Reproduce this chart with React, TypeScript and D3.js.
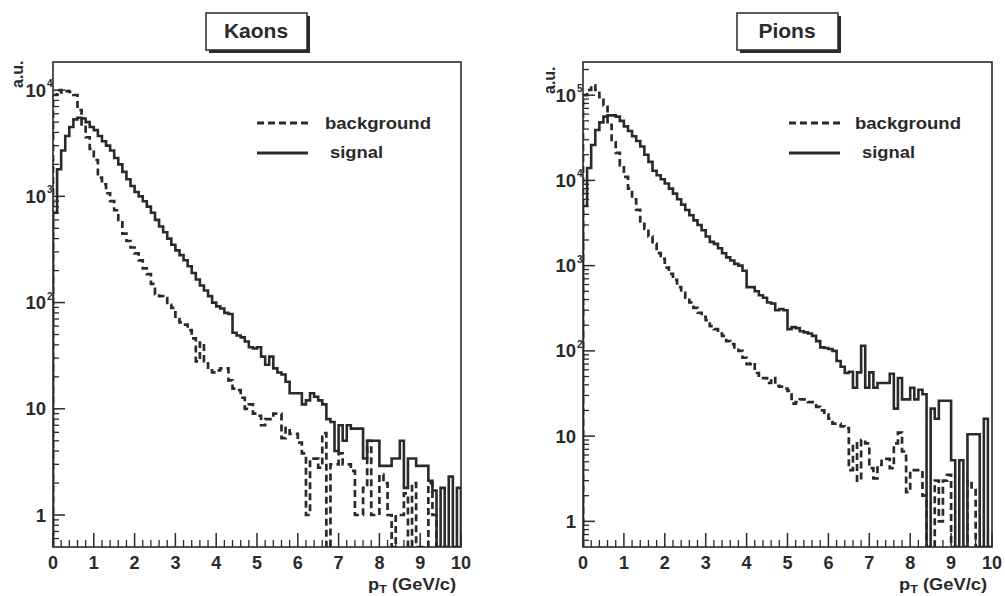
import React from 'react'
import * as d3 from 'd3'

// bin contents, 100 bins of 0.1 GeV/c from 0 to 10
const kaonSignal = [
  700, 1800, 2700, 3700, 4500, 5300, 5500, 5400, 5000, 4500,
  4200, 3700, 3300, 3000, 2700, 2300, 2000, 1700, 1450, 1250,
  1100, 1000, 900, 800, 700, 600, 520, 460, 400, 350,
  310, 280, 250, 220, 190, 165, 145, 130, 115, 100,
  92, 88, 80, 78, 52, 49, 47, 43, 38, 37,
  38, 31, 26, 31, 24, 22, 21, 18, 14, 14,
  14, 11, 12, 14, 13, 12, 11, 8, 7.5, 4,
  7, 5, 7, 6.5, 6.5, 6.5, 3.4, 5, 5, 5,
  2.9, 2.9, 2.9, 3.4, 3.4, 5, 1.8, 3.4, 3.4, 2.9,
  2.9, 2.9, 2.1, 1.7, 0, 1.8, 0, 2.3, 0, 1.8,
]
const kaonBackground = [
  9000, 10000, 9500, 9800, 9600, 9000, 6500, 4500, 3600, 2800,
  2200, 1500, 1300, 1070, 900, 740, 600, 445, 380, 330,
  290, 250, 210, 185, 150, 120, 115, 110, 95, 89,
  70, 65, 62, 55, 46, 28, 42, 28, 23, 22,
  23, 24, 24, 18.5, 15.5, 15, 12.7, 10, 11, 9,
  8.6, 7, 8, 8, 9, 9, 5.3, 6.6, 5.8, 5.8,
  4.8, 3.8, 1.0, 3.4, 3.4, 2.8, 5.9, 0, 3, 3,
  3.8, 3, 3, 2.6, 1.0, 1.0, 1.8, 5, 1, 1,
  2.4, 2, 1, 0, 1, 1, 1.6, 0, 2, 0,
  0, 0, 2, 1, 0, 0, 0, 0, 0, 0,
]
const pionSignal = [
  5000, 14000, 26000, 39000, 48000, 56000, 58000, 58000, 56000, 50000,
  43000, 38000, 33000, 29000, 25000, 20000, 16500, 13000, 11500, 10300,
  9200, 8000, 7000, 6000, 5200, 4500, 3900, 3400, 3000, 2600,
  2200, 1900, 1800, 1600, 1400, 1250, 1150, 1050, 1000, 870,
  560, 560, 500, 450, 420, 370, 360, 300, 310, 300,
  180, 190, 185, 170, 165, 160, 150, 130, 110, 108,
  105, 100, 76, 65, 55, 57, 37, 56, 115, 37,
  56, 37, 42, 42, 42, 54, 21, 48, 27, 27,
  37, 27, 35, 31, 0, 21, 16, 26, 26, 26,
  5.2, 0, 5.2, 0, 10.5, 10.5, 10.5, 0, 16, 0,
]
const pionBackground = [
  100000, 115000, 130000, 115000, 95000, 76000, 45000, 28000, 21000, 15000,
  11000, 8000, 6000, 4500, 3300, 2700, 2200, 1800, 1400, 1200,
  950, 800, 680, 560, 480, 420, 370, 320, 280, 250,
  230, 195, 180, 160, 150, 130, 120, 110, 100, 83,
  70, 72, 55, 48, 48, 42, 48, 39, 38, 36,
  34, 24, 25, 27, 27, 25, 25, 22, 20, 18,
  16, 14, 14, 13, 12.4, 4, 8.2, 3, 9, 8.2,
  4.2, 3.2, 4.6, 5.4, 5.4, 4.2, 8.2, 11, 6.6, 2.2,
  4, 4, 4, 2, 0, 0, 3, 1, 3, 3.5,
  0, 0, 0, 0, 3, 2.5, 0, 0, 0, 0,
]
const xTickLabels = ['0', '1', '2', '3', '4', '5', '6', '7', '8', '9', '10']
const binWidth = 0.1

const ink = '#2a2a2a'
const font = '"Liberation Sans", Arial, Helvetica, sans-serif'

function histPath(values, x, y, ymin) {
  var pts = [[x(0), y(ymin)]]
  values.forEach((v, i) => {
    var yy = y(Math.max(v, ymin))
    pts.push([x(i * binWidth), yy])
    pts.push([x((i + 1) * binWidth), yy])
  })
  pts.push([x(values.length * binWidth), y(ymin)])
  return d3.line()(pts)
}

const Panel = ({id, title, signal, background, left, right, yMax, boxX, legendX, bgTextX, sigTextX, auX, auY}) => {
  var top = 62
  var bottom = 547
  var ymin = 0.5
  const x = d3.scaleLinear().domain([0, 10]).range([left, right])
  const y = d3.scaleLog().domain([ymin, yMax]).range([bottom, top])

  var maxDecade = Math.floor(Math.log10(yMax))
  var majors = d3.range(0, maxDecade + 1).map(n => Math.pow(10, n))
  var minors = []
  for (var n = -1; n <= maxDecade; n++) {
    for (var k = 2; k <= 9; k++) {
      var v = k * Math.pow(10, n)
      if (v > ymin && v < yMax) minors.push(v)
    }
  }
  var xMinor = d3.range(0, 50).map(i => i * 0.2).filter(v => Math.abs(v - Math.round(v)) > 0.01)

  return (
    <g>
      <defs>
        <clipPath id={'clip' + id}>
          <rect x={left} y={top} width={right - left} height={bottom - top}/>
        </clipPath>
      </defs>
      {/* title pave with shadow */}
      <rect x={boxX + 3} y={16} width={101} height={37} fill={ink}/>
      <rect x={boxX} y={13} width={101} height={37} fill="white" stroke={ink} strokeWidth={1.5}/>
      <text x={boxX + 50} y={38} textAnchor="middle" fontFamily={font} fontWeight="bold" fontSize={21} fill={ink}>{title}</text>

      <g clipPath={'url(#clip' + id + ')'}>
        <path d={histPath(background, x, y, ymin)} fill="none" stroke={ink} strokeWidth={2.7} strokeDasharray="7 4"/>
        <path d={histPath(signal, x, y, ymin)} fill="none" stroke={ink} strokeWidth={2.6}/>
      </g>

      <rect x={left} y={top} width={right - left} height={bottom - top} fill="none" stroke={ink} strokeWidth={1.6}/>

      {/* y axis */}
      {majors.map(v => <line key={'M' + v} x1={left} x2={left + 12} y1={y(v)} y2={y(v)} stroke={ink} strokeWidth={1.5}/>)}
      {minors.map(v => <line key={'m' + v} x1={left} x2={left + 6} y1={y(v)} y2={y(v)} stroke={ink} strokeWidth={1.3}/>)}
      {majors.map((v, n) => {
        var base = n === 0 ? '1' : '10'
        return (
          <g key={'l' + v}>
            <text x={left - 7} y={y(v) + 6.5} textAnchor="end" fontFamily={font} fontWeight="bold" fontSize={18.5} fill={ink}>{base}</text>
            {n > 1 ? <text x={left - 6} y={y(v) - 3} fontFamily={font} fontWeight="bold" fontSize={10} fill={ink}>{n}</text> : null}
          </g>
        )
      })}
      <text transform={`translate(${auX},${auY}) rotate(-90)`} fontFamily={font} fontWeight="bold" fontSize={16} fill={ink}>a.u.</text>

      {/* x axis */}
      {xTickLabels.map((t, i) => <line key={'X' + i} x1={x(i)} x2={x(i)} y1={bottom} y2={bottom - 14} stroke={ink} strokeWidth={1.5}/>)}
      {xMinor.map(v => <line key={'x' + v} x1={x(v)} x2={x(v)} y1={bottom} y2={bottom - 7} stroke={ink} strokeWidth={1.3}/>)}
      {xTickLabels.map((t, i) => <text key={'t' + i} x={x(i)} y={569} textAnchor="middle" fontFamily={font} fontWeight="bold" fontSize={18} fill={ink}>{t}</text>)}
      <text x={right - 5} y={590} textAnchor="end" fontFamily={font} fontWeight="bold" fontSize={16} fill={ink} textLength={88} lengthAdjust="spacingAndGlyphs">
        p<tspan fontSize={11} dy={3}>T</tspan><tspan dy={-3}> (GeV/c)</tspan>
      </text>

      {/* legend */}
      <line x1={legendX} x2={legendX + 51} y1={123} y2={123} stroke={ink} strokeWidth={3} strokeDasharray="7 4"/>
      <text x={bgTextX} y={129} fontFamily={font} fontWeight="bold" fontSize={17} fill={ink} textLength={106} lengthAdjust="spacingAndGlyphs">background</text>
      <line x1={legendX} x2={legendX + 51} y1={153} y2={153} stroke={ink} strokeWidth={3}/>
      <text x={sigTextX} y={158} fontFamily={font} fontWeight="bold" fontSize={17} fill={ink} textLength={53} lengthAdjust="spacingAndGlyphs">signal</text>
    </g>
  )
}

const App = () => {
  return (
    <svg width={1005} height={596} style={{position: 'absolute', left: 0, top: 0, background: 'white'}}>
      <rect width={1005} height={596} fill="white"/>
      <Panel id="k" title="Kaons" signal={kaonSignal} background={kaonBackground}
        left={53} right={461} yMax={18400} boxX={206} legendX={257} bgTextX={325} sigTextX={330} auX={23} auY={88}/>
      <Panel id="p" title="Pions" signal={pionSignal} background={pionBackground}
        left={583} right={992} yMax={245000} boxX={737} legendX={789} bgTextX={855} sigTextX={862} auX={555} auY={94}/>
    </svg>
  )
}

export default App
